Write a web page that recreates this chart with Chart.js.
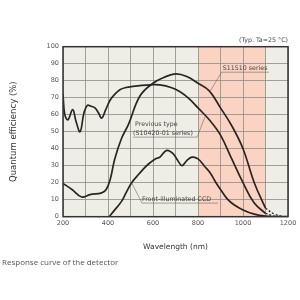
<!DOCTYPE html>
<html>
<head>
<meta charset="utf-8">
<script src="https://cdn.jsdelivr.net/npm/chart.js@4.4.1/dist/chart.umd.min.js"></script>
<style>
html, body { margin: 0; padding: 0; background: #fff; }
#wrap { position: absolute; left: 0; top: 0; width: 300px; height: 300px; }
#caption { position: absolute; left: 2px; top: 256px; font: 8px "Open Sans", sans-serif; color: #555; white-space: nowrap; }
</style>
</head>
<body>
<div id="wrap"><canvas id="qe_chart"></canvas></div>
<div id="caption">Response curve of the detector</div>
<script>
// S11510 series
var s11510Nm = [200, 240, 283, 320, 372, 392, 410, 430, 460, 490, 542, 600, 650, 700, 750, 800, 850, 900, 950, 1000, 1050, 1100];
var s11510Qe = [19.6, 16, 11.6, 13, 14, 16, 22, 34, 46, 54, 71, 78.5, 82, 84, 82.5, 78.5, 74, 64, 53.5, 40, 20, 5];
var s11510TailNm = [1100, 1140, 1180];
var s11510TailQe = [5, 1.5, 0];

// previous type (S10420-01 series)
var prevNm = [200, 208, 222, 243, 258, 276, 293, 308, 325, 342, 358, 372, 390, 409, 430, 453, 480, 511, 550, 590, 630, 680, 720, 760, 800, 850, 900, 950, 1000, 1050, 1100];
var prevQe = [72, 60, 57, 63, 56, 50, 61, 65.5, 65, 64, 61, 58, 63, 68.5, 72, 74.7, 76, 76.7, 77.3, 77.6, 77.5, 76, 73.5, 69.5, 64, 57, 48, 34, 20, 8, 2];
var prevTailNm = [1100, 1130, 1160];
var prevTailQe = [2, 0.6, 0];

// front-illuminated CCD
var fiNm = [405, 430, 460, 480, 505, 530, 550, 580, 610, 630, 661, 690, 710, 729, 750, 773, 800, 830, 853, 880, 900, 930, 960, 1000, 1050, 1100, 1150, 1200];
var fiQe = [0, 4, 9, 14, 20, 24, 27, 31, 34, 35, 39, 37, 33, 30, 33, 35, 34, 29.5, 26, 20, 16, 10.5, 7, 4, 1.5, 0.3, 0.05, 0];

var bandStart = 800, bandEnd = 1100;

function toPoints(xs, ys) {
    return xs.map(function (x, i) { return { x: x, y: ys[i] }; });
}

var lineColor = '#2b2522';
var labelFont = '6.3px "DejaVu Sans", sans-serif';

var chartDecor = {
    id: 'chartDecor',
    beforeDraw: function (chart) {
        var ctx = chart.ctx, a = chart.chartArea, xs = chart.scales.x;
        ctx.save();
        ctx.fillStyle = '#efeee6';
        ctx.fillRect(a.left, a.top, a.right - a.left, a.bottom - a.top);
        var x0 = xs.getPixelForValue(bandStart), x1 = xs.getPixelForValue(bandEnd);
        ctx.fillStyle = '#fbd3c2';
        ctx.fillRect(x0, a.top, x1 - x0, a.bottom - a.top);
        ctx.restore();
    },
    afterDatasetsDraw: function (chart) {
        var ctx = chart.ctx, a = chart.chartArea, xs = chart.scales.x, ys = chart.scales.y;
        function px(v) { return xs.getPixelForValue(v); }
        function py(v) { return ys.getPixelForValue(v); }
        ctx.save();
        // frame
        ctx.strokeStyle = '#333';
        ctx.lineWidth = 1.5;
        ctx.strokeRect(a.left, a.top, a.right - a.left, a.bottom - a.top);

        ctx.font = labelFont;
        ctx.fillStyle = '#444';
        ctx.textBaseline = 'middle';
        ctx.textAlign = 'right';
        ctx.fillText('(Typ. Ta=25 °C)', a.right, a.top - 6);

        ctx.textAlign = 'left';
        ctx.strokeStyle = '#6a6a66';
        ctx.lineWidth = 0.6;

        // S11510 label
        ctx.fillText('S11510 series', px(910), py(87));
        ctx.beginPath();
        ctx.moveTo(px(1115), py(85)); ctx.lineTo(px(905), py(85)); ctx.lineTo(px(850), py(73));
        ctx.stroke();

        // previous type label
        ctx.fillText('Previous type', px(520), py(54.5));
        ctx.fillText('(S10420-01 series)', px(511), py(49));
        ctx.beginPath();
        ctx.moveTo(px(511), py(46.8)); ctx.lineTo(px(796), py(46.8)); ctx.lineTo(px(832), py(59));
        ctx.stroke();

        // front-illuminated label
        ctx.fillText('Front-illuminated CCD', px(551), py(10.4));
        ctx.beginPath();
        ctx.moveTo(px(889), py(8)); ctx.lineTo(px(551), py(8)); ctx.lineTo(px(505), py(20));
        ctx.stroke();
        ctx.restore();
    }
};

function curve(label, pts, dashed) {
    return {
        label: label,
        data: pts,
        borderColor: lineColor,
        borderWidth: dashed ? 1.3 : 1.7,
        borderDash: dashed ? [2, 2] : [],
        pointRadius: 0,
        fill: false,
        tension: 0.4
    };
}

var ctx = document.getElementById('qe_chart').getContext('2d');
var qeChart = new Chart(ctx, {
    type: 'line',
    data: {
        datasets: [
            curve('S11510 series', toPoints(s11510Nm, s11510Qe)),
            curve('S11510 series (ext.)', toPoints(s11510TailNm, s11510TailQe), true),
            curve('Previous type (S10420-01 series)', toPoints(prevNm, prevQe)),
            curve('Previous type (ext.)', toPoints(prevTailNm, prevTailQe), true),
            curve('Front-illuminated CCD', toPoints(fiNm, fiQe))
        ]
    },
    options: {
        responsive: true,
        maintainAspectRatio: false,
        animation: false,
        events: [],
        plugins: {
            legend: { display: false },
            tooltip: { enabled: false }
        },
        layout: {
            padding: { top: 46.7, right: 12, left: 0, bottom: 43.3 }
        },
        scales: {
            x: {
                type: 'linear',
                min: 200,
                max: 1200,
                afterFit: function (scale) { scale.height = 40; },
                ticks: {
                    stepSize: 100,
                    padding: 3,
                    maxRotation: 0,
                    color: '#555',
                    font: { family: 'DejaVu Sans', size: 6.5 },
                    callback: function (v) { return v % 200 === 0 ? v : ''; }
                },
                grid: { color: '#8c8c86', lineWidth: 0.8, drawTicks: false },
                border: { display: false },
                title: {
                    display: true,
                    text: 'Wavelength (nm)',
                    color: '#333',
                    font: { family: 'DejaVu Sans', size: 7.5 },
                    padding: { top: 0, bottom: 5 }
                }
            },
            y: {
                min: 0,
                max: 100,
                afterFit: function (scale) { scale.width = 63; },
                ticks: {
                    stepSize: 10,
                    padding: 4,
                    color: '#555',
                    font: { family: 'DejaVu Sans', size: 6.5 }
                },
                grid: { color: '#8c8c86', lineWidth: 0.8, drawTicks: false },
                border: { display: false },
                title: {
                    display: true,
                    text: 'Quantum efficiency (%)',
                    color: '#333',
                    font: { family: 'DejaVu Sans', size: 8.5 },
                    padding: { top: 8.5, bottom: 0 }
                }
            }
        }
    },
    plugins: [chartDecor]
});
</script>
</body>
</html>
